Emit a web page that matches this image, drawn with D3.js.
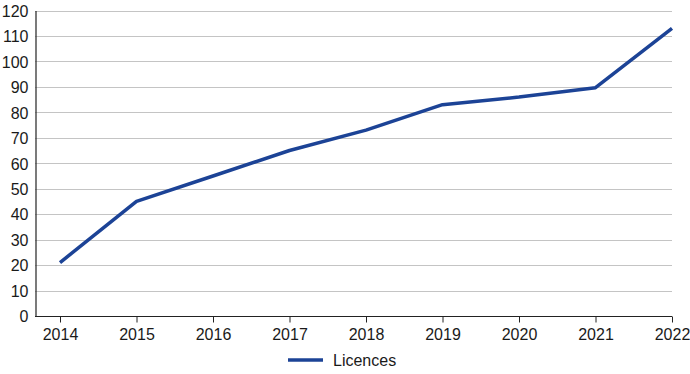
<!DOCTYPE html>
<html lang="en">
<head>
<meta charset="utf-8">
<script src="https://cdn.jsdelivr.net/npm/d3@7"></script>
<style>
  html, body { margin: 0; padding: 0; background: white; overflow: hidden; }
  text { font-family: "Liberation Sans", Arial, sans-serif; fill: #1a1a1a; }
</style>
</head>
<body>
<div id="chart"></div>
<script>
// chart data
var years = ["2014", "2015", "2016", "2017", "2018", "2019", "2020", "2021", "2022"];
var licences = [21, 45, 55, 65, 73, 83, 86, 89.7, 113];
var yTicks = [0, 10, 20, 30, 40, 50, 60, 70, 80, 90, 100, 110, 120];
var seriesName = "Licences";

var w = 690, h = 374;
var plotLeft = 35, plotRight = 672, plotTop = 10.5, plotBottom = 316;

var svg = d3.select("#chart").append("svg")
  .attr("width", w)
  .attr("height", h);

var yScale = d3.scaleLinear().domain([0, 120]).range([plotBottom, plotTop]);
// first year sits in from the axis, last year at the right edge
var xScale = d3.scalePoint().domain(years).range([60, plotRight]);

// gridlines
svg.append("g")
  .selectAll("line")
  .data(yTicks.filter(function(d){ return d > 0; }))
  .enter()
  .append("line")
  .attr("x1", plotLeft)
  .attr("x2", plotRight)
  .attr("y1", function(d){ return Math.round(yScale(d)) + 0.5; })
  .attr("y2", function(d){ return Math.round(yScale(d)) + 0.5; })
  .attr("stroke", "#c4c4c4")
  .attr("stroke-width", 1);

// y axis
var yAxis = d3.axisLeft(yScale).tickValues(yTicks).tickSize(0).tickPadding(7);
var gy = svg.append("g")
  .attr("transform", "translate(" + (plotLeft + 0.5) + ",0)")
  .call(yAxis);
gy.select(".domain").attr("stroke", "#222").attr("stroke-width", 1.2);
gy.selectAll("text").style("font-size", "16px").attr("dy", "0.36em").attr("fill", "#1a1a1a");

// x axis
var xAxis = d3.axisBottom(xScale).tickSizeInner(6).tickSizeOuter(0).tickPadding(6);
var gx = svg.append("g")
  .attr("transform", "translate(0," + (plotBottom + 0.5) + ")")
  .call(xAxis);
gx.select(".domain").attr("d", "M" + plotLeft + ",0H" + plotRight).attr("stroke", "#222").attr("stroke-width", 1.2);
gx.selectAll(".tick line").attr("stroke", "#222");
gx.selectAll("text").style("font-size", "16px").attr("fill", "#1a1a1a");

// line
var line = d3.line()
  .x(function(d, i){ return xScale(years[i]); })
  .y(function(d){ return yScale(d); });

svg.append("path")
  .datum(licences)
  .attr("d", line)
  .attr("fill", "none")
  .attr("stroke", "#1c4396")
  .attr("stroke-width", 3.5)
  .attr("stroke-linejoin", "round");

// legend
var legend = svg.append("g").attr("transform", "translate(288,360)");
legend.append("line")
  .attr("x1", 0).attr("x2", 35)
  .attr("y1", 0).attr("y2", 0)
  .attr("stroke", "#1c4396")
  .attr("stroke-width", 3.5);
legend.append("text")
  .attr("x", 45)
  .attr("y", 5.5)
  .style("font-size", "16px")
  .text(seriesName);
</script>
</body>
</html>
